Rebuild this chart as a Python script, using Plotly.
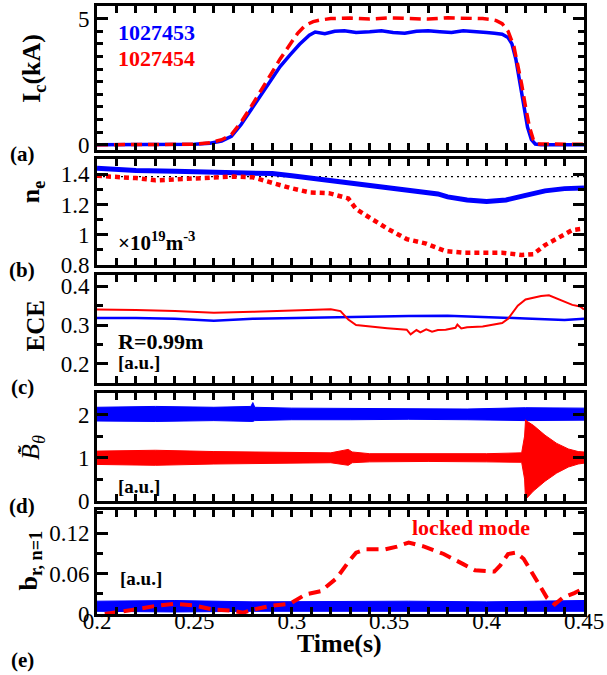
import plotly.graph_objects as go

# ---------------- data ----------------
# (a) coil current Ic (kA)
ic_t_453 = [0.200, 0.250, 0.258, 0.264, 0.269, 0.274, 0.279, 0.284, 0.289, 0.294,
            0.299, 0.304, 0.309, 0.312, 0.317, 0.322, 0.327, 0.333, 0.340, 0.346,
            0.352, 0.358, 0.364, 0.370, 0.376, 0.382, 0.388, 0.394, 0.400, 0.404,
            0.408, 0.411, 0.413, 0.415, 0.417, 0.419, 0.421, 0.423, 0.425, 0.428, 0.450]
ic_v_453 = [0, 0.02, 0.06, 0.15, 0.33, 0.8, 1.38, 1.95, 2.57, 3.1,
            3.55, 3.98, 4.34, 4.47, 4.40, 4.50, 4.52, 4.45, 4.48, 4.52,
            4.45, 4.42, 4.50, 4.52, 4.48, 4.45, 4.52, 4.50, 4.45, 4.42,
            4.38, 4.25, 4.0, 3.4, 2.5, 1.5, 0.7, 0.2, 0.03, 0, 0]
ic_t_454 = [0.200, 0.250, 0.258, 0.264, 0.269, 0.274, 0.279, 0.284, 0.289, 0.294,
            0.299, 0.303, 0.307, 0.311, 0.315, 0.320, 0.330, 0.340, 0.350, 0.360,
            0.370, 0.380, 0.390, 0.398, 0.402, 0.405, 0.408, 0.411, 0.414, 0.416,
            0.418, 0.420, 0.422, 0.424, 0.426, 0.450]
ic_v_454 = [0, 0.02, 0.08, 0.2, 0.4, 0.9, 1.5, 2.1, 2.76, 3.4,
            4.0, 4.42, 4.74, 4.88, 4.95, 5.0, 5.02, 4.98, 5.03, 5.02,
            4.98, 5.03, 5.02, 5.0, 4.97, 4.92, 4.8, 4.5, 3.9, 3.2,
            2.4, 1.5, 0.7, 0.2, 0.03, 0.02]

# (b) line-averaged density (1e19 m^-3)
ne_t_453 = [0.200, 0.210, 0.220, 0.240, 0.260, 0.280, 0.290, 0.300, 0.310, 0.320,
            0.330, 0.340, 0.350, 0.360, 0.370, 0.375, 0.380, 0.390, 0.400, 0.410,
            0.420, 0.430, 0.440, 0.450]
ne_v_453 = [1.44, 1.43, 1.425, 1.42, 1.415, 1.41, 1.405, 1.39, 1.375, 1.36,
            1.345, 1.33, 1.31, 1.30, 1.285, 1.27, 1.25, 1.23, 1.22, 1.23,
            1.26, 1.29, 1.305, 1.31]
ne_t_454 = [0.200, 0.210, 0.220, 0.230, 0.240, 0.250, 0.260, 0.270, 0.280, 0.289,
            0.299, 0.309, 0.319, 0.329, 0.333, 0.339, 0.349, 0.359, 0.369, 0.379,
            0.388, 0.398, 0.408, 0.418, 0.424, 0.430, 0.438, 0.444, 0.450]
ne_v_454 = [1.39, 1.385, 1.375, 1.36, 1.365, 1.37, 1.375, 1.385, 1.38, 1.345,
            1.31, 1.28, 1.275, 1.24, 1.17, 1.12, 1.04, 0.97, 0.94, 0.89,
            0.88, 0.88, 0.88, 0.865, 0.87, 0.93, 0.99, 1.03, 1.04]
ne_ref_level = 1.385

# (c) ECE at R=0.99 m (a.u.)
ece_t_453 = [0.200, 0.220, 0.240, 0.260, 0.280, 0.300, 0.320, 0.340, 0.360, 0.380,
             0.400, 0.420, 0.440, 0.450]
ece_v_453 = [0.318, 0.318, 0.316, 0.311, 0.316, 0.318, 0.320, 0.321, 0.323, 0.324,
             0.321, 0.317, 0.313, 0.316]
ece_t_454 = [0.200, 0.220, 0.240, 0.260, 0.280, 0.300, 0.320, 0.325, 0.329, 0.333,
             0.340, 0.349, 0.359, 0.361, 0.364, 0.366, 0.369, 0.372, 0.375, 0.379,
             0.384, 0.385, 0.387, 0.390, 0.398, 0.408, 0.411, 0.416, 0.420, 0.428,
             0.432, 0.438, 0.444, 0.448, 0.450]
ece_v_454 = [0.340, 0.339, 0.336, 0.332, 0.334, 0.337, 0.341, 0.336, 0.314, 0.300,
             0.296, 0.292, 0.288, 0.276, 0.287, 0.281, 0.289, 0.283, 0.287, 0.288,
             0.293, 0.301, 0.291, 0.294, 0.296, 0.305, 0.316, 0.350, 0.366, 0.375,
             0.377, 0.364, 0.352, 0.348, 0.340]

# (d) Mirnov signal envelopes (a.u.)
mir_t_453 = [0.200, 0.230, 0.260, 0.279, 0.280, 0.281, 0.300, 0.330, 0.360, 0.390, 0.420, 0.450]
mir_hi_453 = [2.17, 2.19, 2.17, 2.19, 2.28, 2.17, 2.15, 2.14, 2.14, 2.13, 2.16, 2.15]
mir_lo_453 = [1.85, 1.84, 1.86, 1.85, 1.84, 1.86, 1.88, 1.88, 1.89, 1.88, 1.86, 1.87]
mir_t_454 = [0.200, 0.230, 0.260, 0.290, 0.320, 0.329, 0.331, 0.340, 0.370, 0.400,
             0.418, 0.4195, 0.4200, 0.4205, 0.424, 0.430, 0.436, 0.442, 0.447, 0.450]
mir_hi_454 = [1.15, 1.17, 1.14, 1.12, 1.11, 1.19, 1.13, 1.09, 1.09, 1.09,
              1.11, 1.50, 1.88, 1.85, 1.75, 1.52, 1.33, 1.20, 1.14, 1.13]
mir_lo_454 = [0.84, 0.82, 0.85, 0.87, 0.88, 0.82, 0.88, 0.90, 0.91, 0.90,
              0.89, 0.50, 0.00, 0.05, 0.22, 0.45, 0.64, 0.78, 0.85, 0.87]

# (e) br, n=1 (a.u.)
br_t_453 = [0.200, 0.240, 0.280, 0.320, 0.360, 0.400, 0.450]
br_hi_453 = [0.019, 0.020, 0.018, 0.019, 0.019, 0.018, 0.020]
br_lo_453 = [0.004, 0.003, 0.004, 0.004, 0.003, 0.004, 0.004]
br_t_454 = [0.204, 0.210, 0.220, 0.230, 0.240, 0.249, 0.259, 0.269, 0.275, 0.281,
            0.289, 0.299, 0.307, 0.315, 0.323, 0.329, 0.333, 0.338, 0.348, 0.354,
            0.360, 0.368, 0.378, 0.388, 0.394, 0.404, 0.407, 0.411, 0.415, 0.419,
            0.425, 0.431, 0.435, 0.439, 0.445, 0.450]
br_v_454 = [0.000, 0.0024, 0.007, 0.012, 0.015, 0.013, 0.007, 0.005, 0.002, 0.007,
            0.012, 0.015, 0.029, 0.034, 0.053, 0.077, 0.091, 0.096, 0.096, 0.100,
            0.106, 0.100, 0.089, 0.074, 0.065, 0.063, 0.072, 0.089, 0.091, 0.082,
            0.053, 0.024, 0.0144, 0.024, 0.031, 0.038]

x_tickvals = [0.2, 0.25, 0.3, 0.35, 0.4, 0.45]
x_ticktext = ["0.2", "0.25", "0.3", "0.35", "0.4", "0.45"]
shot_labels = ["1027453", "1027454"]

BLUE = "#0000FF"
RED = "#FF0000"
FONT = "'Liberation Serif', 'Times New Roman', 'DejaVu Serif', serif"

# ---------------- figure ----------------
fig = go.Figure()

# (a)
fig.add_trace(go.Scatter(x=ic_t_453, y=ic_v_453, mode="lines", line=dict(color=BLUE, width=3.5),
                         xaxis="x", yaxis="y"))
fig.add_trace(go.Scatter(x=ic_t_454, y=ic_v_454, mode="lines",
                         line=dict(color=RED, width=3.5, dash="11px,6px"), xaxis="x", yaxis="y"))
# (b)
fig.add_trace(go.Scatter(x=[0.2, 0.45], y=[ne_ref_level, ne_ref_level], mode="lines",
                         line=dict(color="black", width=1.2, dash="2px,4px"), xaxis="x2", yaxis="y2"))
fig.add_trace(go.Scatter(x=ne_t_453, y=ne_v_453, mode="lines", line=dict(color=BLUE, width=5),
                         xaxis="x2", yaxis="y2"))
fig.add_trace(go.Scatter(x=ne_t_454, y=ne_v_454, mode="lines",
                         line=dict(color=RED, width=4.5, dash="5px,4px"), xaxis="x2", yaxis="y2"))
# (c)
fig.add_trace(go.Scatter(x=ece_t_453, y=ece_v_453, mode="lines", line=dict(color=BLUE, width=2.5),
                         xaxis="x3", yaxis="y3"))
fig.add_trace(go.Scatter(x=ece_t_454, y=ece_v_454, mode="lines", line=dict(color=RED, width=2),
                         xaxis="x3", yaxis="y3"))
# (d)
fig.add_trace(go.Scatter(x=mir_t_453, y=mir_lo_453, mode="lines", line=dict(color=BLUE, width=1),
                         xaxis="x4", yaxis="y4"))
fig.add_trace(go.Scatter(x=mir_t_453, y=mir_hi_453, mode="lines", line=dict(color=BLUE, width=1),
                         fill="tonexty", fillcolor=BLUE, xaxis="x4", yaxis="y4"))
fig.add_trace(go.Scatter(x=mir_t_454, y=mir_lo_454, mode="lines", line=dict(color=RED, width=1),
                         xaxis="x4", yaxis="y4"))
fig.add_trace(go.Scatter(x=mir_t_454, y=mir_hi_454, mode="lines", line=dict(color=RED, width=1),
                         fill="tonexty", fillcolor=RED, xaxis="x4", yaxis="y4"))
# (e)
fig.add_trace(go.Scatter(x=br_t_453, y=br_lo_453, mode="lines", line=dict(color=BLUE, width=1),
                         xaxis="x5", yaxis="y5"))
fig.add_trace(go.Scatter(x=br_t_453, y=br_hi_453, mode="lines", line=dict(color=BLUE, width=1),
                         fill="tonexty", fillcolor=BLUE, xaxis="x5", yaxis="y5"))
fig.add_trace(go.Scatter(x=br_t_454, y=br_v_454, mode="lines",
                         line=dict(color=RED, width=4, dash="12px,7px"), xaxis="x5", yaxis="y5"))

# ---------------- layout ----------------
W, H = 607, 675
L, R, T, B = 97, 22, 3, 61
PW, PH = W - L - R, H - T - B


def py(pix):
    return (H - B - pix) / PH


def px(pix):
    return (pix - L) / PW


panels = [  # (top px, bottom px, range, tickvals, minor dtick)
    (3, 148, [-0.22, 5.5], [0, 5], 0.5),
    (157, 263, [0.8, 1.5], [0.8, 1.0, 1.2, 1.4], 0.1),
    (273, 382, [0.15, 0.43], [0.2, 0.3, 0.4], 0.05),
    (392, 500, [0, 2.5], [0, 1, 2], 0.5),
    (509, 614, [0, 0.155], [0, 0.06, 0.12], 0.03),
]

layout = dict(width=W, height=H, margin=dict(l=L, r=R, t=T, b=B), showlegend=False,
              plot_bgcolor="white", paper_bgcolor="white",
              font=dict(family=FONT, size=22, color="black"))

for i, (top, bot, rng, tv, mdt) in enumerate(panels):
    n = "" if i == 0 else str(i + 1)
    layout["xaxis" + n] = dict(
        domain=[0, 1], range=[0.2, 0.45], anchor="y" + n,
        tickvals=x_tickvals, ticktext=x_ticktext, showticklabels=(i == 4),
        ticks="inside", ticklen=7, tickwidth=2.5, tickcolor="black",
        minor=dict(ticks="inside", ticklen=7, tickwidth=2.5, dtick=0.01, tickcolor="black"),
        showline=True, linewidth=3, linecolor="black", mirror="allticks",
        showgrid=False, zeroline=False, tickfont=dict(family=FONT, size=23),
        ticklabelstandoff=-16,
        matches=None if i == 0 else "x")
    layout["yaxis" + n] = dict(
        domain=[py(bot), py(top)], range=rng, anchor="x" + n,
        tickvals=tv, ticks="inside", ticklen=11, tickwidth=2.5, tickcolor="black",
        minor=dict(ticks="inside", ticklen=6, tickwidth=2.5, dtick=mdt, tick0=0, tickcolor="black"),
        showline=True, linewidth=3, linecolor="black", mirror="allticks",
        showgrid=False, zeroline=False, tickfont=dict(family=FONT, size=23))

fig.update_layout(**layout)

ann = []


def text(x, y, s, size=21, color="black", angle=0, xanchor="center"):
    ann.append(dict(x=px(x), y=py(y), xref="paper", yref="paper", text=s, showarrow=False,
                    font=dict(family=FONT, size=size, color=color), textangle=angle,
                    xanchor=xanchor, yanchor="middle"))


# y axis titles
text(33, 66, "<b>I<sub>c</sub>(kA)</b>", size=26, angle=-90)
text(32, 190, "<b>n<sub>e</sub></b>", size=26, angle=-90)
text(35, 325, "<b>ECE</b>", size=25, angle=-90)
text(32, 447, "<i>B\u0303\u0307</i><sub><i>θ</i></sub>", size=26, angle=-90)
text(30, 560, "<b>b<sub>r, n=1</sub></b>", size=26, angle=-90)

# panel labels
for lab, yy in zip(["(a)", "(b)", "(c)", "(d)", "(e)"], [152, 268, 386, 505, 660]):
    text(22, yy, "<b>" + lab + "</b>", size=21)

# in-panel texts
text(116, 30, "<b>" + shot_labels[0] + "</b>", size=22, color=BLUE, xanchor="left")
text(116, 56, "<b>" + shot_labels[1] + "</b>", size=22, color=RED, xanchor="left")
text(116, 240, "<b>×10<sup>19</sup>m<sup>-3</sup></b>", size=21, xanchor="left")
text(116, 340, "<b>R=0.99m</b>", size=22, xanchor="left")
text(116, 361, "<b>[a.u.]</b>", size=19, xanchor="left")
text(116, 486, "<b>[a.u.]</b>", size=19, xanchor="left")
text(118, 578, "<b>[a.u.]</b>", size=19, xanchor="left")
text(472, 527, "<b>locked mode</b>", size=22, color=RED)
text(340, 644, "<b>Time(s)</b>", size=26)

fig.update_layout(annotations=ann)
fig.write_html("out.html")
